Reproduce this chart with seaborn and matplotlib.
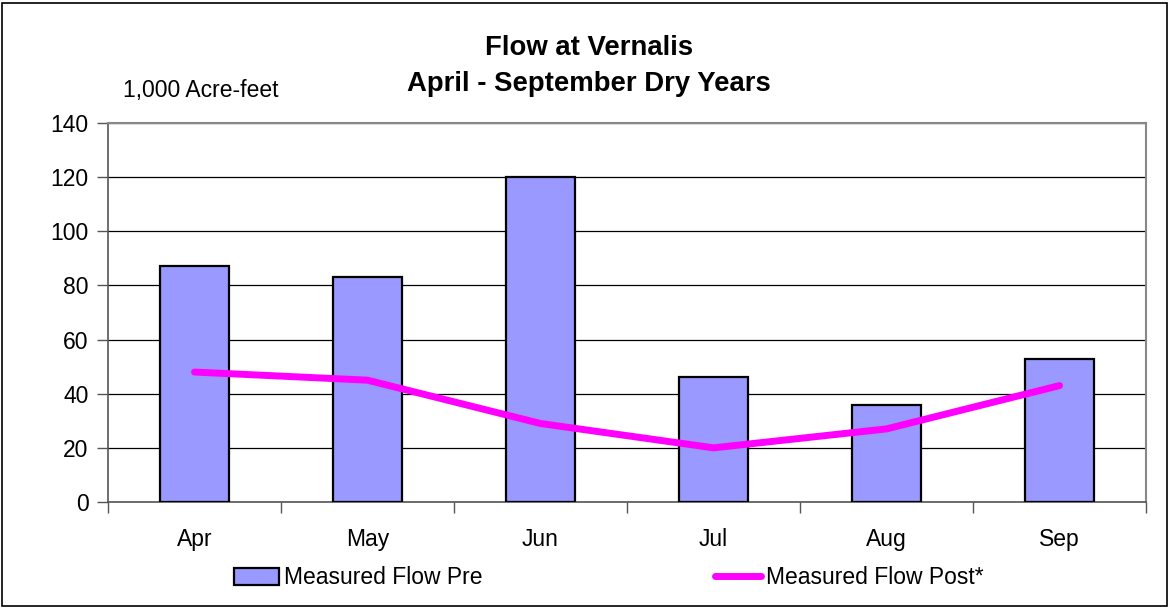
import numpy as np
import pandas as pd
import seaborn as sns
import matplotlib.pyplot as plt
from matplotlib.patches import Rectangle, Patch
from matplotlib.lines import Line2D

# dados (1,000 acre-feet)
months = ['Apr', 'May', 'Jun', 'Jul', 'Aug', 'Sep']
flow_pre = [87, 83, 120, 46, 36, 53]
flow_post = [48, 45, 29, 20, 27, 43]

df = pd.DataFrame({'month': months, 'pre': flow_pre, 'post': flow_post})
df['pos'] = np.arange(len(months))

sns.set_style('white')
plt.rcParams['font.family'] = ['Liberation Sans', 'DejaVu Sans']
plt.rcParams['text.color'] = 'black'
plt.rcParams['xtick.color'] = 'black'
plt.rcParams['ytick.color'] = 'black'

fs = 16.5

fig = plt.figure(figsize=(11.7, 6.08), dpi=100)
ax = fig.add_axes([108 / 1170, 106 / 608, (1146 - 108) / 1170, (502 - 123) / 608])

sns.barplot(data=df, x='month', y='pre', color='#9999FF', saturation=1,
            width=0.4, edgecolor='black', linewidth=1.6, ax=ax, zorder=3)
sns.lineplot(x=df['pos'], y=df['post'], color='#FF00FF', linewidth=5,
             ax=ax, zorder=4, solid_capstyle='round')

ax.set_xlim(-0.5, 5.5)
ax.set_ylim(0, 140)
ax.set_yticks(range(0, 141, 20))
ax.yaxis.grid(True, color='black', linewidth=0.9, zorder=0)
ax.set_axisbelow(True)
ax.set_xlabel('')
ax.set_ylabel('')

# ticks entre as categorias
ax.set_xticks(np.arange(6))
ax.set_xticklabels(months, fontsize=fs)
ax.set_xticks(np.arange(-0.5, 6, 1), minor=True)
ax.tick_params(axis='x', which='major', length=0, pad=19)
ax.tick_params(axis='x', which='minor', length=8, width=1, color='#555555', direction='out')
ax.tick_params(axis='y', length=8, width=1, color='#555555', direction='out', labelsize=fs, pad=6)
ax.tick_params(bottom=True, left=True, which='both')

for side in ['top', 'right']:
    ax.spines[side].set_color('#888888')
    ax.spines[side].set_linewidth(1.5)
for side in ['left', 'bottom']:
    ax.spines[side].set_color('#555555')
    ax.spines[side].set_linewidth(1.2)

fig.text(589 / 1170, 1 - 48 / 608, 'Flow at Vernalis', ha='center', va='center',
         fontsize=19.8, fontweight='bold')
fig.text(589 / 1170, 1 - 84 / 608, 'April - September Dry Years', ha='center', va='center',
         fontsize=19.8, fontweight='bold')
fig.text(123 / 1170, 1 - 91 / 608, '1,000 Acre-feet', ha='left', va='center', fontsize=fs)

handles = [Patch(facecolor='#9999FF', edgecolor='black', linewidth=1.6),
           Line2D([0], [0], color='#FF00FF', linewidth=5)]
fig.legend(handles, ['Measured Flow Pre', 'Measured Flow Post*'], ncol=2,
           loc='center left', bbox_to_anchor=(213 / 1170, 1 - 578 / 608),
           frameon=False, fontsize=fs, handlelength=2.0, handletextpad=0.2,
           columnspacing=10.15)

fig.patches.append(Rectangle((2 / 1170, 2 / 608), 1165 / 1170, 603 / 608,
                             transform=fig.transFigure, fill=False,
                             edgecolor='black', linewidth=1.2))

plt.savefig('out.png', dpi=100)
